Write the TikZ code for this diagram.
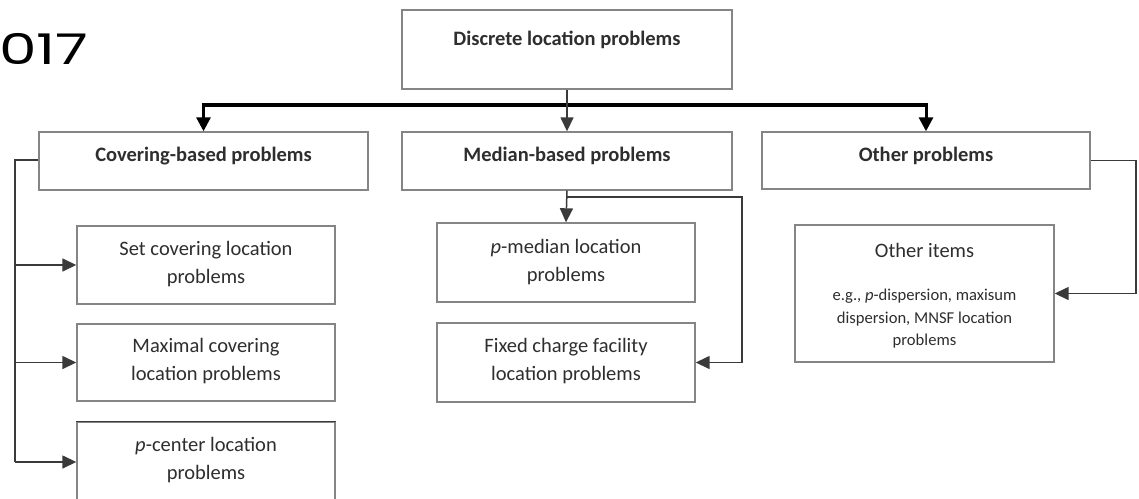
\documentclass[tikz,border=0pt]{standalone}
\usepackage{fontspec}
\setmainfont{Carlito}
\newfontfamily\yearfont{Poppins}
\usetikzlibrary{arrows.meta}
\definecolor{boxgray}{HTML}{858585}
\definecolor{linegray}{HTML}{3A3A3A}
\definecolor{txt}{HTML}{2E2E2E}
\tikzset{
  box/.style={draw=boxgray, line width=1.4pt, rectangle, inner sep=0pt, fill=none},
  lbl/.style={text=txt, align=center, font=\fontsize{20.5}{28}\selectfont, inner sep=0pt},
  hdr/.style={text=txt, align=center, font=\bfseries\fontsize{20.5}{28}\selectfont, inner sep=0pt},
  small/.style={text=txt, align=center, font=\fontsize{16.6}{22.5}\selectfont, inner sep=0pt},
  conn/.style={draw=linegray, line width=1.5pt},
  arr/.style={conn, -{Triangle[length=14pt,width=13pt]}},
  busline/.style={draw=black, line width=3.5pt},
  busarr/.style={draw=black, line width=3pt, -{Triangle[length=14pt,width=14pt]}},
}
\begin{document}
\begin{tikzpicture}[x=1pt,y=-1pt]
\useasboundingbox (0,0) rectangle (1139,498);
\clip (0,0) rectangle (1139,498);
\fill[white] (0,0) rectangle (1139,498);
% year fragment
\node[anchor=base west, inner sep=0pt, transform shape, xscale=1.3, yscale=0.92, font=\yearfont\fontsize{46}{46}\selectfont] (yr) at (-1,64.5) {017};
% boxes
\node[box, minimum width=330pt, minimum height=79pt] (top) at (567,49.5) {};
\node[box, minimum width=329pt, minimum height=58pt] (cov) at (203.5,161) {};
\node[box, minimum width=330pt, minimum height=58pt] (med) at (567,161) {};
\node[box, minimum width=328pt, minimum height=57pt] (oth) at (926,160.5) {};
\node[box, minimum width=258pt, minimum height=78pt] (set) at (206,265) {};
\node[box, minimum width=258pt, minimum height=77pt] (max) at (206,362.5) {};
\node[box, minimum width=258pt, minimum height=80pt] (pc) at (206,462) {};
\draw[draw=linegray, line width=1.6pt] (pc.north west) -- (pc.north east);
\node[box, minimum width=258pt, minimum height=79pt] (pm) at (566,262.5) {};
\node[box, minimum width=258pt, minimum height=79pt] (fix) at (566,362.5) {};
\node[box, minimum width=259pt, minimum height=137pt] (itm) at (924.5,293.5) {};
% texts
\node[hdr] (ttop) at (567,40) {Discrete location problems};
\node[hdr] (tcov) at (203.5,156) {Covering-based problems};
\node[hdr] (tmed) at (567,156) {Median-based problems};
\node[hdr] (toth) at (926,156) {Other problems};
\node[lbl] (tset) at (206,264) {Set covering location\\problems};
\node[lbl] (tmax) at (206,361) {Maximal covering\\location problems};
\node[lbl] (tpc) at (206,460) {\textit{p}-center location\\problems};
\node[lbl] (tpm) at (566,262) {\textit{p}-median location\\problems};
\node[lbl] (tfix) at (566,361) {Fixed charge facility\\location problems};
\node[lbl] (titm) at (924.5,250) {Other items};
\node[small] (titm2) at (924.5,319) {e.g., \textit{p}-dispersion, maxisum\\dispersion, MNSF location\\problems};
% top-level connectors
\coordinate (bus) at (0,105);
\draw[busline] ([xshift=-1.5pt]cov.north |- bus) -- ([xshift=1.5pt]oth.north |- bus);
\draw[conn, -{Triangle[length=14pt,width=13pt]}] (top.south) -- (med.north);
\draw[busarr] (cov.north |- bus) -- (cov.north);
\draw[busarr] (oth.north |- bus) -- (oth.north);
% covering branch
\coordinate (cl) at (15,160);
\draw[conn] (cov.west |- cl) -- (cl) -- (cl |- pc.west);
\draw[arr] (cl |- set.west) -- (set.west);
\draw[arr] (cl |- max.west) -- (max.west);
\draw[arr] (cl |- pc.west) -- (pc.west);
% median branch
\coordinate (mr) at (742,197);
\draw[arr] (med.south) -- (pm.north);
\draw[arr] (med.south |- mr) -- (mr) -- (mr |- fix.east) -- (fix.east);
% other branch
\coordinate (or) at (1136,160.5);
\draw[arr] (oth.east) -- (or) -- (or |- itm.east) -- (itm.east);
\end{tikzpicture}
\end{document}
